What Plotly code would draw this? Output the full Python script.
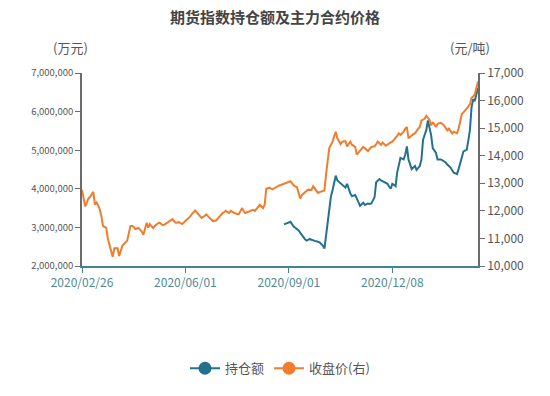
import pandas as pd
import plotly.graph_objects as go

# ---- trading calendar (SHFE trading days) ----
start_date = "2020-02-26"
end_date = "2021-03-01"
holidays = ["2020-04-06", "2020-05-01", "2020-05-04", "2020-05-05",
            "2020-06-25", "2020-06-26",
            "2020-10-01", "2020-10-02", "2020-10-05", "2020-10-06", "2020-10-07", "2020-10-08",
            "2021-01-01", "2021-02-11", "2021-02-12", "2021-02-15", "2021-02-16", "2021-02-17"]
days = [d for d in pd.bdate_range(start_date, end_date) if d.strftime("%Y-%m-%d") not in holidays]
dates = [d.strftime("%Y/%m/%d") for d in days]

tick_labels = ["2020/02/26", "2020/06/01", "2020/09/01", "2020/12/08"]

# ---- close price of main contract (yuan/ton), right axis ----
close_price = [
    12760, 12500, 12160, 12300, 12450, 12500, 12600, 12690, 12230, 12300,
    12200, 12050, 11800, 11450, 11420, 11380, 10990, 10800, 10550, 10330,
    10640, 10650, 10640, 10360, 10550, 10740, 10800, 10850, 10920, 11200,
    11450, 11450, 11420, 11340, 11360, 11380, 11310, 11250, 11130, 11350,
    11570, 11390, 11520, 11450, 11380, 11450, 11520, 11550, 11570, 11520,
    11480, 11500, 11540, 11570, 11620, 11680, 11700, 11620, 11570, 11580,
    11590, 11550, 11520, 11580, 11630, 11700, 11750, 11800, 11880, 11950,
    12010, 11950, 11880, 11800, 11740, 11780, 11830, 11870, 11800, 11740,
    11680, 11630, 11640, 11650, 11720, 11800, 11860, 11920, 11960, 12000,
    11950, 11920, 12000, 11960, 11920, 11900, 11890, 11880, 11990, 12100,
    12000, 11920, 11950, 11980, 12000, 12020, 12040, 12000, 12080, 12150,
    12220, 12160, 12100, 12220, 12800, 12820, 12840, 12810, 12780, 12820,
    12860, 12890, 12920, 12940, 12960, 12980, 13010, 13040, 13060, 13075,
    13000, 12920, 12890, 12860, 12650, 12450, 12570, 12630, 12690, 12730,
    12770, 12770, 12760, 12890, 12820, 12750, 12650, 12680, 12710, 12740,
    12740, 13330, 13810, 14280, 14400, 14510, 14700, 14870, 14630, 14520,
    14420, 14510, 14520, 14530, 14340, 14420, 14510, 14400, 14360, 14320,
    14040, 14100, 14170, 14250, 14320, 14280, 14240, 14170, 14250, 14320,
    14330, 14340, 14420, 14510, 14450, 14390, 14480, 14420, 14360, 14400,
    14450, 14480, 14510, 14570, 14630, 14720, 14810, 14750, 14810, 14870,
    14980, 15040, 14630, 14690, 14750, 14780, 14810, 14920, 14980, 15040,
    15280, 15310, 15340, 15450, 15380, 15300, 15100, 15220, 15130, 15040,
    15160, 15170, 15190, 15150, 15100, 15010, 14920, 14980, 14900, 14810,
    14870, 14840, 14810, 14980, 15250, 15510, 15570, 15630, 15690, 15780,
    15870, 16100, 16150, 16220, 16460, 16690,
]

# ---- open interest value (10k yuan), left axis; starts at trading day index 125 ----
oi_start = 125
open_interest = [
    3078000, 3100000, 3119000, 3130000, 3144000, 3080000, 3018000, 2992000, 2967000, 2920000,
    2866000, 2800000, 2740000, 2690000, 2657000, 2680000, 2700000, 2680000, 2657000, 2650000,
    2640000, 2630000, 2615000, 2570000, 2530000, 2450000, 2800000, 3200000, 3550000, 3800000,
    3960000, 4150000, 4340000, 4215000, 4180000, 4150000, 4090000, 4060000, 4030000, 4130000,
    4000000, 3880000, 3810000, 3830000, 3840000, 3750000, 3650000, 3560000, 3600000, 3640000,
    3580000, 3600000, 3620000, 3610000, 3620000, 3700000, 3780000, 4170000, 4200000, 4250000,
    4215000, 4190000, 4170000, 4150000, 4130000, 4060000, 4000000, 4130000, 4100000, 4070000,
    4420000, 4600000, 4800000, 4780000, 4760000, 4890000, 5100000, 4760000, 4630000, 4510000,
    4550000, 4590000, 4490000, 4540000, 4590000, 4760000, 5265000, 5400000, 5520000, 5770000,
    5580000, 5390000, 5055000, 4990000, 4930000, 4760000, 4760000, 4760000, 4740000, 4720000,
    4680000, 4630000, 4590000, 4550000, 4480000, 4420000, 4400000, 4380000, 4510000, 4680000,
    4845000, 4970000, 4990000, 5010000, 5250000, 5520000, 6110000, 6320000, 6275000, 6490000,
    6620000,
]

n = min(len(dates), len(close_price))
dates = dates[:n]
close_price = close_price[:n]
oi_dates = dates[oi_start:oi_start + len(open_interest)]

BLUE = "#24708f"
ORANGE = "#f07d2e"
FONT = "Noto Sans CJK SC"

fig = go.Figure()
fig.add_trace(go.Scatter(x=oi_dates, y=open_interest, mode="lines", name="持仓额",
                         line=dict(color=BLUE, width=2), showlegend=False, yaxis="y"))
fig.add_trace(go.Scatter(x=dates, y=close_price, mode="lines", name="收盘价(右)",
                         line=dict(color=ORANGE, width=2), showlegend=False, yaxis="y2"))
# legend entries (line + circle symbol)
fig.add_trace(go.Scatter(x=[None], y=[None], mode="lines+markers", name="持仓额",
                         line=dict(color=BLUE, width=2), marker=dict(size=13, color=BLUE)))
fig.add_trace(go.Scatter(x=[None], y=[None], mode="lines+markers", name="收盘价(右)",
                         line=dict(color=ORANGE, width=2), marker=dict(size=13, color=ORANGE), yaxis="y2"))

fig.update_layout(
    width=550, height=396,
    margin=dict(l=82, r=72, t=73, b=125),
    paper_bgcolor="white", plot_bgcolor="white",
    font=dict(family=FONT, color="#555"),
    title=dict(text="<b>期货指数持仓额及主力合约价格</b>", x=0.5, xanchor="center",
               y=0.955, yanchor="middle", font=dict(size=15, color="#444", family=FONT)),
    xaxis=dict(type="category", categoryorder="array", categoryarray=dates,
               range=[0, n - 1], tickmode="array", tickvals=tick_labels, ticktext=tick_labels,
               showgrid=False, zeroline=False, showline=True, linecolor="#3f8592", linewidth=1.5,
               ticks="outside", ticklen=5, tickcolor="#3f8592",
               tickfont=dict(size=12, color="#4f8a95")),
    yaxis=dict(range=[2000000, 7000000], tickvals=[2000000, 3000000, 4000000, 5000000, 6000000, 7000000],
               tickformat=",d", showgrid=False, zeroline=False, showline=True, linecolor="#6b6b6b",
               linewidth=1.5, ticks="outside", ticklen=5, tickcolor="#6b6b6b",
               tickfont=dict(size=9.5, color="#555")),
    yaxis2=dict(range=[10000, 17000], tickvals=list(range(10000, 17001, 1000)),
                tickformat=",d", overlaying="y", side="right", showgrid=False, zeroline=False,
                showline=True, linecolor="#6b6b6b", linewidth=1.5, ticks="outside", ticklen=5,
                tickcolor="#6b6b6b", tickfont=dict(size=12, color="#555")),
    legend=dict(orientation="h", x=0.5, xanchor="center", y=-0.53, yanchor="middle",
                font=dict(size=13, color="#555"), itemwidth=30),
    annotations=[
        dict(text="(万元)", xref="paper", yref="paper", x=-0.03, y=1.13, xanchor="center",
             yanchor="middle", showarrow=False, font=dict(size=13, color="#555")),
        dict(text="(元/吨)", xref="paper", yref="paper", x=0.98, y=1.13, xanchor="center",
             yanchor="middle", showarrow=False, font=dict(size=13, color="#555")),
    ],
)

fig.write_html("out.html", config={"displayModeBar": False},
               post_script="document.body.style.margin='0';")
